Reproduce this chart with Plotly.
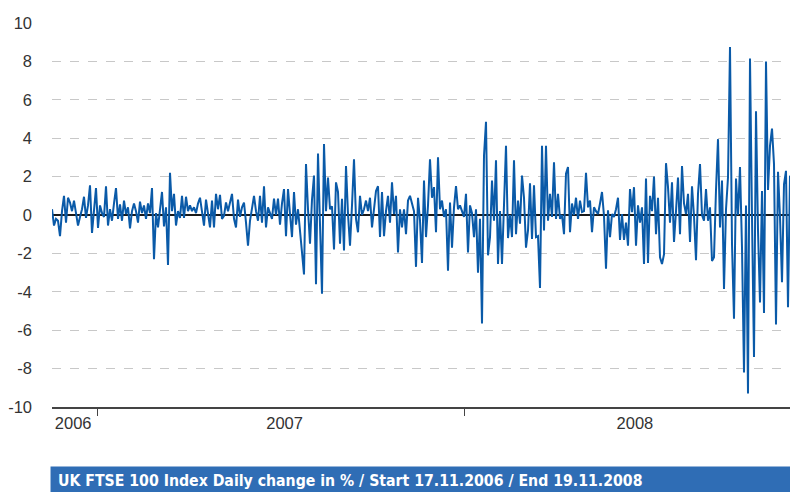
import plotly.graph_objects as go
import pandas as pd

start_date = "2006-11-17"
end_date = "2008-11-19"

# daily change in %, in date order
chg_late_2006 = [
    0.3, -0.55, -0.2, -0.3, -1.1, 0.2, 1.0, -0.4, 0.9, 0.65,
    0.2, 0.75, 0.1, -0.55, -0.1, 0.3, 0.95, -0.15, 0.5, 1.55,
    -0.93, 0.4, 1.4, -0.67, 0.5, 0.1, -0.1, 1.5, -0.55, 0.3,
    -0.3, 0.6, 1.4, -0.2, 0.55, -0.3, 0.75, 0.05, 0.4, -0.7,
    0.2, 0.6, 0.2, -0.4, 0.7, 0.1, 0.5, -0.2, 0.6, 0.1,
    1.4, -2.3, 0.1, -0.65, 0.3, 1.2, -0.6, 0.4, -2.6, 2.2,
]
chg_h1_2007 = [
    0.2, 1.1, -0.55, 0.2, -0.15, 1.0, -0.15, 0.95, 0.2, 0.5,
    0.2, 0.4, 0.1, 0.6, 0.9, 0.2, -0.55, 0.8, 0.1, -0.65,
    0.75, -0.65, 1.1, 0.3, 1.05, -0.2, -0.05, 0.65, 0.2, 0.75,
    1.1, -0.2, -0.65, 0.8, -0.1, 0.4, 0.65, -0.4, -1.6, -0.3,
    0.4, 1.0, 0.2, -0.3,
    1.0, -0.4, 1.5, -0.65, 0.4, 0.1, -0.2, 0.85, 0.0, 0.85,
    -0.5, 0.6, 1.35, -1.1, 1.35, 0.05, -1.15, 1.2, -0.5, 0.3,
    -1.0, -1.95, -3.1,
]
chg_h2_2007 = [
    2.65, 0.3, -1.5, 0.8, 2.05, -3.6, 3.2, -0.5, -4.1, 3.7,
    0.2, 1.95, 0.3, 0.45, -1.8, 1.7, 1.2, -1.5, 0.85, -1.85,
    2.55, 0.05, -1.6, 0.5, 2.9, -0.2, -0.9, 1.0, 0.0, 0.3,
    0.75, 0.2, 0.9, -0.65, 0.4, 1.25, 1.5, -1.15, 1.2, -1.1,
    0.2, 1.0, -0.4, 1.7, 0.05, 1.0, -1.95, 0.3, -0.65, 0.3,
    -1.0, 0.75, 1.0, 0.65, 0.2, -2.7, 0.9, -0.3, -2.5, 1.8,
    -1.15, 0.5, 2.9, 0.9, 1.45, -0.9, 3.0,
]
chg_h1_2008 = [
    0.3, 0.75, -0.1, 0.3, -2.9, 0.65, -1.7, 0.4, 1.5, 0.3,
    0.5, 0.2, -0.1, 1.1, -1.95, 0.5, 0.1, -1.15, 0.3, -3.0,
    -0.2, -5.65, 3.1, 4.85, -2.1, -1.15, 1.8, -0.3, 2.85, -2.55,
    0.2, -2.55, 1.0,
    3.6, -1.2, 0.0, -1.15, 2.85, -1.0, 0.75, -0.45, 2.05, 0.9,
    -1.7, -0.8, 1.65, -1.25, 1.55, -1.15, -1.1, -3.8, 3.6, -0.8,
    3.6, -0.3, 1.1, -0.1, 2.75, -0.2, 1.1, -0.2, 0.0, -1.0,
    2.15, 2.5, -0.9, 0.6, 0.0, 0.9, -0.2, 0.75, 0.15, 0.2,
    2.2, 0.4, 0.75, -0.9, 0.4, 0.2, 0.05, 0.6, 1.2, -0.05,
]
chg_h2_2008 = [
    -2.8, 0.25, -1.15, 0.05, -0.1, 0.3, 0.9, -1.3, 0.05, -1.3,
    -0.4, -1.6, 1.35, 0.15, 1.45, -1.6, 0.5, -0.4, 0.4, -2.55,
    1.9, -2.5, 1.0, 0.2, 2.0, -1.0, 0.9, -2.2, -2.55, -2.05,
    2.7, 1.45, -0.4, 1.7, -1.4, 0.2, 1.95, -1.0, 2.55, 0.6,
    0.05, 1.1, -1.4, 1.5, -0.05, -2.35, 1.1, 2.65, 0.0, -0.3,
    1.35, -0.3, 0.4, -2.4, -2.2, 1.3, 3.95, -0.65, 1.8, -3.85,
    0.3, 1.95, 8.75, -1.5, -5.4, 1.9, 0.0, 2.5, -1.7, -8.2,
    0.5, -9.3, 8.15, -0.1, -7.4, 5.4, -0.8, -4.55, 1.25, -5.1,
    8.0, 1.3, 3.6, 4.5, 2.65, -5.7, 2.25, -0.1, -3.5, 1.6,
    2.3, -4.8, 2.05,
]

daily_change = chg_late_2006 + chg_h1_2007 + chg_h2_2007 + chg_h1_2008 + chg_h2_2008
dates = pd.date_range(start_date, end_date, periods=len(daily_change))

y_ticks = [-10, -8, -6, -4, -2, 0, 2, 4, 6, 8, 10]
year_labels = ["2006", "2007", "2008"]
year_label_dates = ["2006-12-08", "2007-07-06", "2008-06-18"]
year_starts = ["2007-01-01", "2008-01-01"]

caption = "UK FTSE 100 Index Daily change in % / Start 17.11.2006 / End 19.11.2008"

tick_font = "Liberation Sans, Arial, sans-serif"
caption_font = "DejaVu Sans Condensed, Liberation Sans Narrow, Arial Narrow, sans-serif"

fig = go.Figure()
fig.add_trace(go.Scatter(x=dates, y=daily_change, mode="lines",
                         line=dict(color="#0a5aa8", width=2),
                         hovertemplate="%{x|%d.%m.%Y}: %{y:.2f}%<extra></extra>"))

fig.update_xaxes(range=[start_date, end_date], showgrid=False, zeroline=False,
                 showline=True, linecolor="#444444", linewidth=1.5,
                 tickmode="array", tickvals=year_label_dates, ticktext=year_labels, ticks="",
                 tickfont=dict(size=16.5, color="#333333", family=tick_font),
                 minor=dict(tickmode="array", tickvals=year_starts, ticks="outside",
                            ticklen=7, tickwidth=1, tickcolor="#444444", showgrid=False))

fig.update_yaxes(range=[-10, 10], tickmode="array", tickvals=y_ticks,
                 ticktext=[str(v) for v in y_ticks],
                 showgrid=True, gridcolor="#c8c8c8", griddash="dash", gridwidth=1,
                 zeroline=True, zerolinecolor="#1a1a1a", zerolinewidth=1.5,
                 tickfont=dict(size=16.5, color="#333333", family=tick_font),
                 ticklabelstandoff=19)

# caption bar under the chart
fig.add_shape(type="rect", xref="paper", yref="paper", x0=-0.002, x1=1.0, y0=-0.23, y1=-0.155,
              fillcolor="#2f6db5", line_width=0, layer="above")
fig.add_annotation(text="<b>" + caption + "</b>", xref="paper", yref="paper",
                   x=0.006, y=-0.191, xanchor="left", yanchor="middle", showarrow=False,
                   font=dict(size=15.7, color="white", family=caption_font))

fig.update_layout(width=790, height=492, margin=dict(l=52, r=0, t=23, b=85),
                  paper_bgcolor="white", plot_bgcolor="white", showlegend=False)

# drop the default page margin so the figure fills the window exactly
fig.write_html("out.html", config={"displayModeBar": False},
               post_script="document.body.style.margin='0';document.body.style.overflow='hidden';")
